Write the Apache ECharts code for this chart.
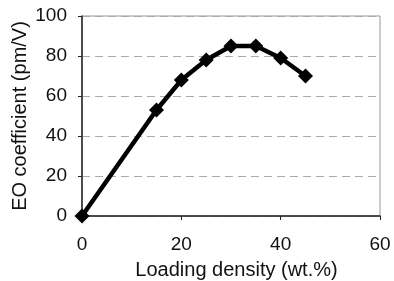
<!DOCTYPE html>
<html>
<head>
<meta charset="utf-8">
<script src="https://cdn.jsdelivr.net/npm/echarts@6/dist/echarts.min.js"></script>
<style>
  html, body { margin: 0; padding: 0; background: #fff; }
  #main { width: 394px; height: 281px; }
</style>
</head>
<body>
<div id="main"></div>
<script>
// loading density (wt.%) and EO coefficient (pm/V)
const loading = [0, 15, 20, 25, 30, 35, 40, 45];
const eoCoeff = [0, 53, 68, 78, 85, 85, 79, 70];
const xTicks = [0, 20, 40, 60];
const yTicks = [0, 20, 40, 60, 80, 100];

let chart = echarts.init(document.getElementById('main'));
let font = 'Liberation Sans, Arial, sans-serif';

let option = {
  animation: false,
  grid: {
    left: 82, top: 16, right: 14, bottom: 65,
    outerBoundsMode: 'none',
    show: true, borderColor: '#999', borderWidth: 1
  },
  xAxis: {
    type: 'value',
    min: xTicks[0], max: xTicks[xTicks.length - 1], interval: 20,
    name: 'Loading density (wt.%)',
    nameLocation: 'middle', nameGap: 44,
    nameMoveOverlap: false,
    nameTextStyle: { color: '#111', fontSize: 20, fontFamily: font, padding: [0, 0, 0, 11] },
    axisLine: { lineStyle: { color: '#222', width: 1.5 } },
    axisTick: { show: true, length: 4, lineStyle: { color: '#222' } },
    axisLabel: { color: '#111', fontSize: 19, fontFamily: font, margin: 19 },
    splitLine: { show: false }
  },
  yAxis: {
    type: 'value',
    min: yTicks[0], max: yTicks[yTicks.length - 1], interval: 20,
    name: 'EO coefficient (pm/V)',
    nameLocation: 'middle', nameGap: 52,
    nameMoveOverlap: false,
    nameTextStyle: { color: '#111', fontSize: 20, fontFamily: font },
    axisLine: { lineStyle: { color: '#222', width: 1.5 } },
    axisTick: { show: true, length: 4, lineStyle: { color: '#222' } },
    axisLabel: { color: '#111', fontSize: 19, fontFamily: font, margin: 15 },
    splitLine: { show: true, lineStyle: { color: '#aaa', type: [8, 5], width: 1 } }
  },
  series: [{
    type: 'line',
    data: loading.map((x, i) => [x, eoCoeff[i]]),
    symbol: 'diamond',
    symbolSize: 15,
    itemStyle: { color: '#000' },
    lineStyle: { color: '#000', width: 4.5 }
  }]
};
chart.setOption(option);
</script>
</body>
</html>
